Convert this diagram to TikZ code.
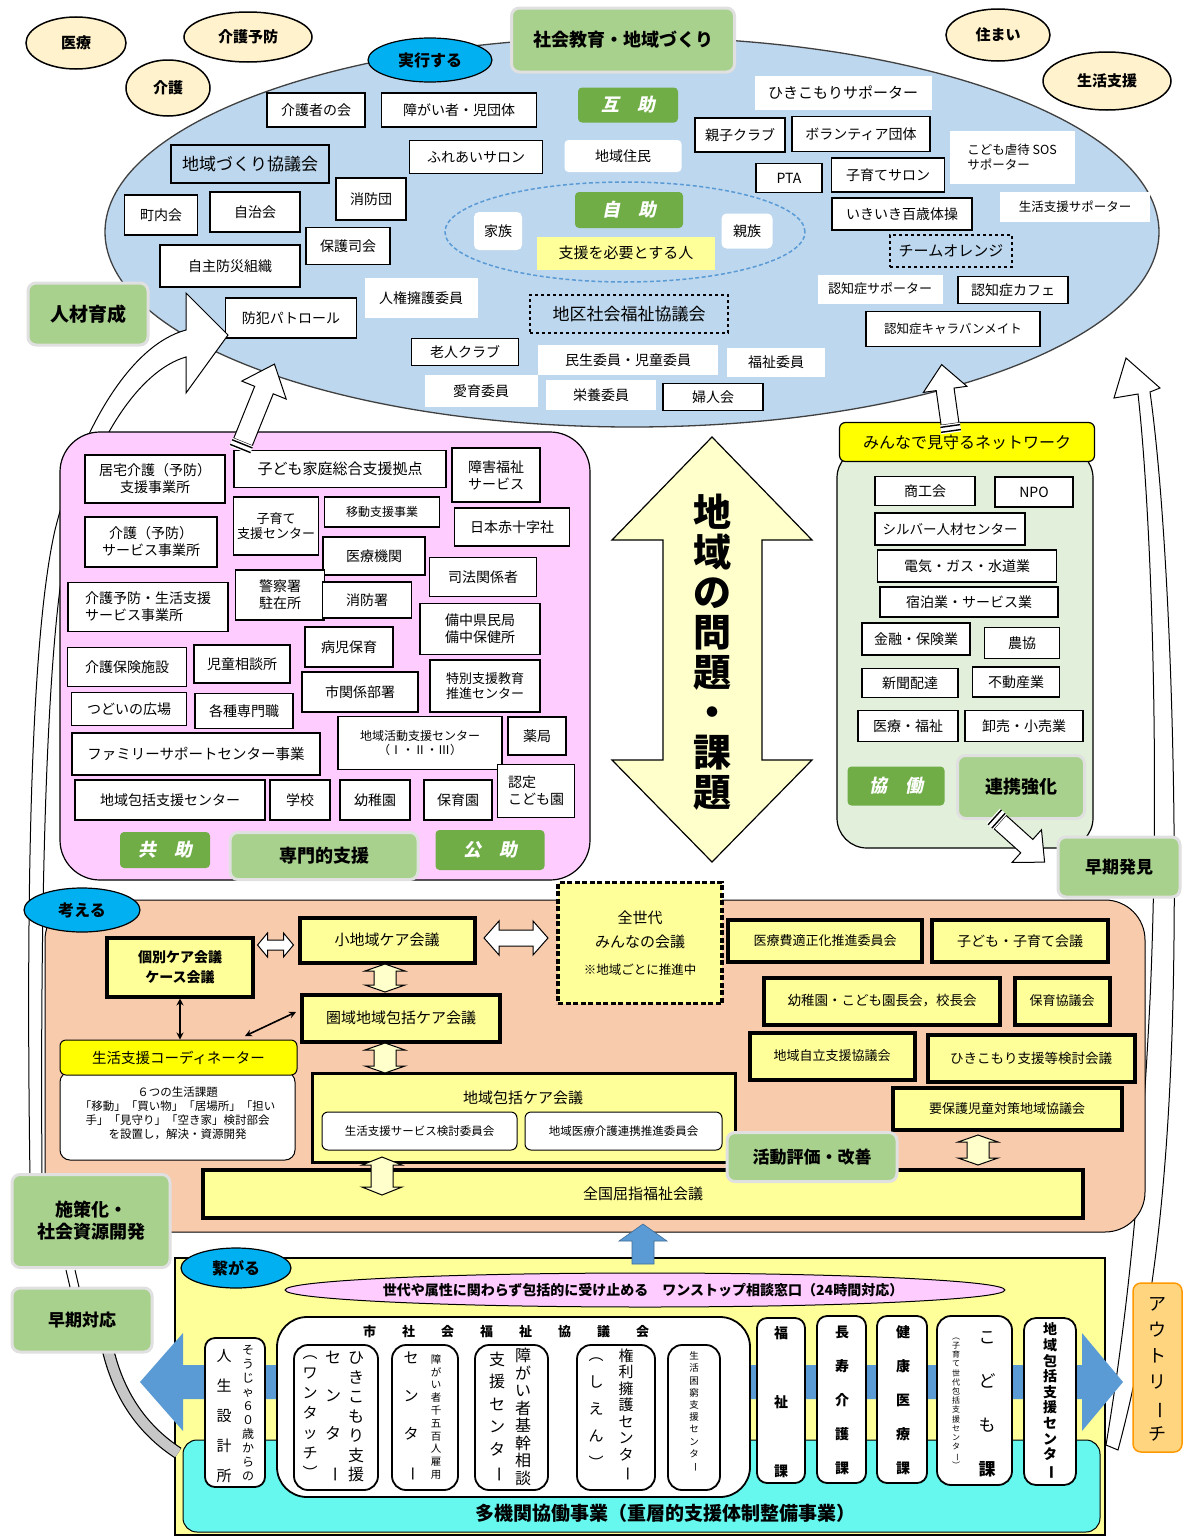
\documentclass[tikz,border=0pt]{standalone}
\usepackage{fontspec}
\setmainfont{Noto Sans CJK JP}
\newfontfamily\slfont{Noto Sans CJK JP}[FakeSlant=0.2]
\usetikzlibrary{shapes.geometric,arrows.meta}
\definecolor{ellblue}{HTML}{BDD7EE}
\definecolor{beigeell}{HTML}{FFF2CC}
\definecolor{cyanell}{HTML}{00B0F0}
\definecolor{dkgreen}{HTML}{70AD47}
\definecolor{ltgreen}{HTML}{A9D18E}
\definecolor{pinkbg}{HTML}{FFCCFF}
\definecolor{salmon}{HTML}{F8CBAD}
\definecolor{lyellow}{HTML}{FFFF99}
\definecolor{byellow}{HTML}{FFFF00}
\definecolor{netbg}{HTML}{E2EFDA}
\definecolor{arrblue}{HTML}{5B9BD5}
\definecolor{cyanbox}{HTML}{66F7EF}
\definecolor{outreach}{HTML}{FFD580}
\definecolor{paleyel}{HTML}{FFFFCC}
\newcommand\fs[1]{\fontsize{#1}{1.22\dimexpr#1pt\relax}\selectfont}
\newcommand\vf[2]{\fontsize{#1}{#2}\selectfont}
\newcommand\vbar{\rotatebox[origin=c]{-90}{ー}}
% block arrow: x y angle length shafthalf headhalf headlen style
\newcommand\blkarrow[8]{\begin{scope}[shift={(#1,#2)},rotate=#3]
 \draw[#8] (0,-#5)--(#4-#7,-#5)--(#4-#7,-#6)--(#4,0)--(#4-#7,#6)--(#4-#7,#5)--(0,#5)--cycle;
 \end{scope}}
% tail stripes: x y angle shafthalf
\newcommand\blktail[4]{\begin{scope}[shift={(#1,#2)},rotate=#3]
 \fill[white] (-9,-#4-1) rectangle (0,#4+1);
 \draw[line width=1.4pt] (-2,-#4-1)--(-2,#4+1) (-7,-#4-1)--(-7,#4+1);
 \end{scope}}
% double block arrow: cx cy angle length shafthalf headhalf headlen style
\newcommand\dblkarrow[8]{\begin{scope}[shift={(#1,#2)},rotate=#3]
 \draw[#8] (-#4/2,0)--(-#4/2+#7,-#6)--(-#4/2+#7,-#5)--(#4/2-#7,-#5)--(#4/2-#7,-#6)--(#4/2,0)--(#4/2-#7,#6)--(#4/2-#7,#5)--(-#4/2+#7,#5)--(-#4/2+#7,#6)--cycle;
 \end{scope}}
\tikzset{
 every node/.style={align=center},
 bx/.style 2 args={minimum width=#1,minimum height=#2},
 wb/.style={draw, fill=white, line width=1.2pt, inner sep=0pt, font=\fs{14}},
 wn/.style={fill=white, inner sep=0pt, font=\fs{14}},
 gl/.style={fill=dkgreen, rounded corners=4pt, text=white, font=\slfont\bfseries\fs{18}, inner sep=0pt},
 lg/.style={fill=ltgreen, draw=black!12, line width=3pt, rounded corners=8pt, font=\bfseries\fs{18}, inner sep=0pt},
 bel/.style={ellipse, draw, line width=1.5pt, fill=beigeell, font=\bfseries\fs{15}, inner sep=0pt},
 cel/.style={ellipse, draw, line width=1.2pt, fill=cyanell, font=\bfseries\fs{16}, inner sep=0pt},
 yb/.style={draw, line width=4pt, fill=lyellow, font=\fs{14}, inner sep=0pt},
 vb/.style={draw, fill=white, rounded corners=10pt, line width=1.8pt, inner sep=0pt},
 warr/.style={fill=white, draw=black, line width=1pt},
 yarr/.style={fill=paleyel, draw=black, line width=1pt},
 barr/.style={fill=arrblue, draw=arrblue!70!black, line width=0.6pt},
 conn/.style={{Stealth[length=7pt,width=7pt]}-{Stealth[length=7pt,width=7pt]}, line width=1.6pt}
}
\begin{document}
\begin{tikzpicture}[x=1pt,y=-1pt]
\fill[white] (0,0) rectangle (1184,1539);
\useasboundingbox (0,0) rectangle (1184,1539);

% ---------- five elements
\node[bel, bx={100}{52}] (iryo) at (76,43) {医療};
\node[bel, bx={128}{50}] (kaigoyobo) at (248,37) {介護予防};
\node[bel, bx={84}{56}] (kaigo) at (168,88) {介護};
\node[bel, bx={104}{52}] (sumai) at (998,35) {住まい};
\node[bel, bx={128}{58}] (seikatsu) at (1107,81) {生活支援};

% ---------- big ellipse
\node[ellipse, draw=black!75, line width=1.3pt, fill=ellblue, bx={1054}{390}, inner sep=0pt] (ell) at (632,232) {};
\node[cel, bx={124}{44}] (jikko) at (430,60) {実行する};
\node[lg, bx={223}{64}] (shakai) at (623,40) {社会教育・地域づくり};

\node[wb, bx={98}{34}] (kaigosha) at (316,110) {介護者の会};
\node[wb, bx={155}{34}] (shogai) at (459,110) {障がい者・児団体};
\node[gl, bx={100}{35}] (gojo) at (628,105) {互　助};
\node[wn, bx={177}{34}, font=\fs{15}] (hikisup) at (843,93) {ひきこもりサポーター};
\node[draw, line width=1.2pt, fill=ellblue, bx={158}{38}, font=\fs{17}, inner sep=0pt] (chiikizukuri) at (250,164) {地域づくり協議会};
\node[wb, bx={133}{33}] (fureai) at (476,157) {ふれあいサロン};
\node[wn, rounded corners=4pt, bx={117}{32}] (jumin) at (623,156) {地域住民};
\node[wb, bx={90}{34}] (oyako) at (740,135) {親子クラブ};
\node[wb, bx={138}{35}] (volunteer) at (861,134) {ボランティア団体};
\node[wn, bx={125}{53}, align=left, font=\fs{12.5}] (sos) at (1012,157) {こども虐待 SOS\\サポーター};
\node[wb, bx={66}{29}] (pta) at (789,178) {PTA};
\node[wb, bx={113}{34}] (kosodate) at (888,175) {子育てサロン};
\node[wb, bx={70}{42}] (shobodan) at (371,199) {消防団};
\node[wb, bx={73}{40}] (chonai) at (161,215) {町内会};
\node[wb, bx={90}{40}] (jichi) at (255,212) {自治会};
\node[wb, bx={84}{37}] (hogoshi) at (348,246) {保護司会};
\node[ellipse, draw=arrblue, dash pattern=on 4pt off 2.5pt, line width=1.5pt, bx={360}{100}, inner sep=0pt] (jijoell) at (625,232) {};
\node[gl, bx={108}{36}] (jijo) at (629,210) {自　助};
\node[wn, rounded corners=5pt, bx={48}{38}] (kazoku) at (498,231) {家族};
\node[wn, rounded corners=5pt, bx={51}{35}] (shinzoku) at (747,231) {親族};
\node[fill=lyellow, bx={178}{33}, font=\fs{15}, inner sep=0pt] (shien) at (626,253) {支援を必要とする人};
\node[wb, bx={140}{32}] (ikiiki) at (902,214) {いきいき百歳体操};
\node[wn, bx={150}{30}, font=\fs{12.5}] (seisup) at (1075,207) {生活支援サポーター};
\node[draw, dashed, line width=1.2pt, fill=ellblue, bx={122}{32}, font=\fs{15}, inner sep=0pt] (orange) at (951,251) {チームオレンジ};
\node[wb, bx={140}{42}] (jishubosai) at (230,266) {自主防災組織};
\node[wn, bx={113}{40}] (jinken) at (421,298) {人権擁護委員};
\node[draw, dashed, line width=1.2pt, fill=ellblue, bx={198}{38}, font=\fs{17}, inner sep=0pt] (chiku) at (629,314) {地区社会福祉協議会};
\node[wn, bx={125}{29}, font=\fs{13}] (ninsup) at (880,289) {認知症サポーター};
\node[wb, bx={110}{27}] (ninkafe) at (1013,290) {認知症カフェ};
\node[wb, bx={131}{40}] (bohan) at (291,318) {防犯パトロール};
\node[wb, bx={174}{35}, font=\fs{12.5}] (caravan) at (953,329) {認知症キャラバンメイト};
\node[wb, bx={107}{27}] (rojin) at (465,352) {老人クラブ};
\node[wn, bx={180}{30}] (minsei) at (628,360) {民生委員・児童委員};
\node[wn, bx={98}{29}] (fukushiiin) at (776,362) {福祉委員};
\node[wn, bx={113}{32}] (aiiku) at (481,391) {愛育委員};
\node[wn, bx={110}{30}] (eiyo) at (601,395) {栄養委員};
\node[wb, bx={100}{27}] (fujin) at (713,397) {婦人会};

% ---------- side bands
\draw[fill=white, line width=1pt] (30,1178) .. controls (26,900) and (30,640) .. (55,530) .. controls (80,430) and (130,345) .. (186,330) -- (186,293) -- (228,335) -- (186,393) -- (186,357) .. controls (140,370) and (92,440) .. (68,540) .. controls (46,640) and (40,900) .. (42,1178) -- cycle;
\draw[fill=white, line width=1pt] (1106,1445) .. controls (1125,1330) and (1140,1200) .. (1150,1000) .. controls (1160,780) and (1152,520) .. (1138,394) -- (1114,398) -- (1126,358) -- (1160,388) -- (1150,392) .. controls (1168,520) and (1178,780) .. (1173,1000) .. controls (1168,1200) and (1150,1330) .. (1118,1450) -- cycle;

\node[lg, bx={120}{62}, font=\bfseries\fs{19}] (jinzai) at (88,314) {人材育成};

% ---------- pink box
\node[draw, line width=1.2pt, fill=pinkbg, rounded corners=40pt, bx={530}{448}] (pink) at (325,656) {};
\node[wb, bx={140}{48}] (kyotaku) at (155,479) {居宅介護（予防）\\支援事業所};
\node[wb, bx={212}{37}, font=\fs{15}] (kodomokatei) at (340,469) {子ども家庭総合支援拠点};
\node[wb, bx={88}{54}] (shogaifukushi) at (496,475) {障害福祉\\サービス};
\node[wb, bx={85}{58}, font=\fs{13}] (kosodatesc) at (276,526) {子育て\\支援センター};
\node[wb, bx={115}{30}, font=\fs{12}] (ido) at (382,512) {移動支援事業};
\node[wb, bx={115}{38}] (sekijuji) at (512,527) {日本赤十字社};
\node[wb, bx={132}{50}] (kaigoyobo2) at (151,542) {介護（予防）\\サービス事業所};
\node[wb, bx={102}{38}] (iryokikan) at (374,556) {医療機関};
\node[wb, bx={107}{39}] (shiho) at (483,577) {司法関係者};
\node[wb, bx={89}{50}] (keisatsu) at (280,595) {警察署\\駐在所};
\node[wb, bx={89}{36}] (shobosho) at (367,600) {消防署};
\node[wb, bx={160}{49}, align=left] (yobo) at (148,607) {介護予防・生活支援\\サービス事業所};
\node[wb, bx={120}{51}] (bitchu) at (480,629) {備中県民局\\備中保健所};
\node[wb, bx={88}{40}] (byoji) at (349,647) {病児保育};
\node[wb, bx={119}{39}] (kaigohoken) at (127,667) {介護保険施設};
\node[wb, bx={96}{38}] (jido) at (242,664) {児童相談所};
\node[wb, bx={110}{52}, font=\fs{13}] (tokubetsu) at (485,686) {特別支援教育\\推進センター};
\node[wb, bx={116}{40}] (shikankei) at (360,692) {市関係部署};
\node[wb, bx={115}{33}] (tsudoi) at (129,709) {つどいの広場};
\node[wb, bx={98}{35}] (kakushu) at (244,711) {各種専門職};
\node[wb, bx={164}{53}, font=\fs{12}] (chiikikatsudo) at (420,743) {地域活動支援センター\\（Ⅰ・Ⅱ・Ⅲ）};
\node[wb, bx={58}{38}] (yakkyoku) at (537,736) {薬局};
\node[wb, bx={248}{42}, font=\fs{14.5}] (family) at (196,754) {ファミリーサポートセンター事業};
\node[wb, bx={190}{40}] (houkatsu1) at (170,800) {地域包括支援センター};
\node[wb, bx={60}{40}] (gakko) at (300,800) {学校};
\node[wb, bx={70}{40}] (yochien1) at (375,800) {幼稚園};
\node[wb, bx={68}{40}] (hoikuen) at (458,800) {保育園};
\node[wb, bx={77}{53}, align=left] (nintei) at (536,791) {認定\\こども園};
\node[gl, bx={90}{36}] (kyojo) at (165,850) {共　助};
\node[lg, bx={188}{47}] (senmon) at (324,856) {専門的支援};
\node[gl, bx={109}{40}] (kojo) at (490,850) {公　助};

\blkarrow{243}{442}{68}{84}{10}{24}{28}{warr}
\blktail{243}{442}{68}{10}

% ---------- central arrow
\draw[fill=paleyel, line width=1.2pt] (712,437) -- (812,540) -- (762,540) -- (762,760) -- (812,760) -- (712,862) -- (612,760) -- (663,760) -- (663,540) -- (612,540) -- cycle;
\node[font={\bfseries\fontsize{38}{40}\selectfont}] (mondai) at (712,652) {地\\域\\の\\問\\題\\・\\課\\題};

% ---------- network
\node[draw, line width=1.2pt, fill=netbg, rounded corners=30pt, bx={256}{400}] (net) at (965,648) {};
\node[draw, line width=1.2pt, fill=byellow, rounded corners=6pt, bx={255}{39}, font=\fs{16}, inner sep=0pt] (nethead) at (967,442) {みんなで見守るネットワーク};
\blkarrow{950}{424}{98}{60}{9}{22}{25}{warr}
\blktail{950}{424}{98}{9}
\node[wb, bx={100}{29}] (shokokai) at (925,491) {商工会};
\node[wb, bx={78}{30}] (npo) at (1034,492) {NPO};
\node[wb, bx={150}{32}, font=\fs{13.5}] (silver) at (950,529) {シルバー人材センター};
\node[wb, bx={179}{32}] (denki) at (967,566) {電気・ガス・水道業};
\node[wb, bx={178}{30}] (shukuhaku) at (969,602) {宿泊業・サービス業};
\node[wb, bx={108}{32}] (kinyu) at (916,639) {金融・保険業};
\node[wb, bx={75}{31}] (nokyo) at (1022,643) {農協};
\node[wb, bx={96}{29}] (shinbun) at (910,683) {新聞配達};
\node[wb, bx={87}{30}] (fudosan) at (1016,682) {不動産業};
\node[wb, bx={100}{31}] (iryofukushi) at (908,726) {医療・福祉};
\node[wb, bx={118}{31}] (oroshi) at (1024,726) {卸売・小売業};
\node[gl, bx={97}{39}] (kyodo) at (896,786) {協　働};
\node[lg, bx={127}{63}] (renkei) at (1021,787) {連携強化};
\blkarrow{1000}{822}{-42}{60}{9}{22}{24}{warr}
\blktail{1000}{822}{-42}{9}
\node[lg, bx={122}{60}, font=\bfseries\fs{17}] (soki) at (1119,867) {早期発見};

% ---------- beige section
\node[draw, line width=1pt, fill=salmon, rounded corners=40pt, bx={1100}{332}] (beige) at (595,1066) {};
\node[cel, bx={116}{44}] (kangaeru) at (82,910) {考える};
\node[yb, bx={146}{59}, font=\bfseries\fs{14}] (kobetsu) at (180,967) {個別ケア会議\\[3pt]ケース会議};
\node[yb, bx={175}{45}, font=\fs{15}] (shochiiki) at (387,940) {小地域ケア会議};
\node[draw, line width=3.5pt, dash pattern=on 5pt off 2.5pt, fill=lyellow, bx={164}{121}, font=\fs{15}, inner sep=0pt] (zensedai) at (640,943) {全世代\\[6pt]みんなの会議\\[9pt]{\fs{12.5}※地域ごとに推進中}};
\node[yb, bx={194}{42}, font=\fs{13}] (iryohi) at (825,941) {医療費適正化推進委員会};
\node[yb, bx={176}{42}] (kodomokosodate) at (1020,941) {子ども・子育て会議};
\node[yb, bx={236}{47}, font=\fs{13.5}] (yochienkai) at (882,1001) {幼稚園・こども園長会，校長会};
\node[yb, bx={95}{47}, font=\fs{13}] (hoikukyo) at (1062,1001) {保育協議会};
\node[yb, bx={165}{47}, font=\fs{13}] (jiritsu) at (832,1056) {地域自立支援協議会};
\node[yb, bx={207}{47}, font=\fs{13.5}] (hikikento) at (1031,1058) {ひきこもり支援等検討会議};
\node[yb, bx={229}{42}, font=\fs{13}] (yohogo) at (1007,1109) {要保護児童対策地域協議会};
\node[yb, bx={198}{47}, font=\fs{15}] (kenikikaigi) at (401,1018) {圏域地域包括ケア会議};
\node[draw, fill=white, rounded corners=10pt, line width=1pt, bx={235}{88}] (kadai) at (177.5,1116) {};
\node[font=\fs{11.5}] (kadaitext) at (177.5,1113) {６つの生活課題\\「移動」「買い物」「居場所」「担い\\手」「見守り」「空き家」検討部会\\を設置し，解決・資源開発};
\node[draw, fill=byellow, rounded corners=6pt, line width=1pt, bx={237}{35}, font=\fs{14.5}, inner sep=0pt] (coord) at (178.5,1057.5) {生活支援コーディネーター};
\node[draw, line width=3pt, fill=lyellow, bx={423}{89}] (hokatsu) at (523.5,1117.5) {};
\node[font=\fs{15}] (hokatsutitle) at (523,1098) {地域包括ケア会議};
\node[draw, fill=white, rounded corners=6pt, line width=1pt, bx={195}{38}, font=\fs{11.5}, inner sep=0pt] (seikatsuserv) at (419.5,1131) {生活支援サービス検討委員会};
\node[draw, fill=white, rounded corners=6pt, line width=1pt, bx={197}{38}, font=\fs{11.5}, inner sep=0pt] (iryokaigo) at (623.5,1131) {地域医療介護連携推進委員会};
\node[yb, bx={880}{48}, font=\fs{15}] (zenkoku) at (643,1194) {全国屈指福祉会議};
\node[lg, bx={170}{49}, font=\bfseries\fs{17}] (katsudo) at (812,1157) {活動評価・改善};

\draw[conn] (kobetsu.south) -- (kobetsu.south |- coord.north);
\coordinate (diagA) at (245,1036);
\coordinate (diagB) at (296,1012);
\draw[conn] (diagA) -- (diagB);
\dblkarrow{275.5}{945}{0}{36}{5}{12}{10}{warr}
\dblkarrow{516}{938}{0}{64}{8}{17}{15}{warr}
\dblkarrow{385}{978}{90}{28}{11}{20}{7}{yarr}
\dblkarrow{385}{1058}{90}{30}{11}{20}{7}{yarr}
\dblkarrow{382}{1176}{90}{38}{11}{20}{8}{yarr}
\dblkarrow{978}{1150}{90}{30}{11}{20}{7}{yarr}

\node[lg, bx={158}{93}, font=\bfseries\fs{18}] (shisaku) at (91,1221) {施策化・\\社会資源開発};

% ---------- bottom section
\node[draw, line width=1.5pt, fill=lyellow, bx={930}{277}] (bottombox) at (640,1396.5) {};
\blkarrow{643}{1264}{90}{40}{11}{24}{17}{barr}
\fill[arrblue] (140,1382) -- (183,1333) -- (183,1365) -- (1082,1365) -- (1082,1333) -- (1123,1382) -- (1082,1431) -- (1082,1399) -- (183,1399) -- (183,1431) -- cycle;
\node[draw, fill=cyanbox, rounded corners=14pt, line width=1pt, bx={917}{92}] (cyanbox) at (641.5,1486) {};
\node[font=\bfseries\fs{19}] (takikan) at (665,1513) {多機関協働事業（重層的支援体制整備事業）};
\node[ellipse, draw, line width=1pt, fill=pinkbg, bx={720}{34}, inner sep=0pt] (onestop) at (645,1290) {};
\node[font=\bfseries\fs{14}] (onestopT) at (643,1290) {世代や属性に関わらず包括的に受け止める　ワンストップ相談窓口（24時間対応）};
\node[cel, bx={110}{40}] (tsunagaru) at (236,1268) {繋がる};

\node[vb, bx={60}{149}] (jinsei) at (235,1412.5) {};
\node[font=\vf{15}{30}] (jinseiL) at (224,1416) {人\\生\\設\\計\\所};
\node[font=\vf{12}{14}] (jinseiR) at (248,1413) {そ\\う\\じ\\ゃ\\６\\０\\歳\\か\\ら\\の};

\node[vb, rounded corners=30pt, bx={473}{180}] (shakyo) at (513.5,1407) {};
\node[font=\bfseries\fs{13}] (shakyohead) at (506,1332) {市\hskip26pt社\hskip26pt会\hskip26pt福\hskip26pt祉\hskip26pt協\hskip26pt議\hskip26pt会};
\node[vb, rounded corners=14pt, bx={84}{145}] (hiki) at (336,1417.5) {};
\node[font=\vf{16}{19.5}] (hikiA) at (356,1417) {ひ\\き\\こ\\も\\り\\支\\援};
\node[font=\vf{16}{38}] (hikiB) at (333,1417) {セ\\ン\\タ\\\vbar};
\node[font=\vf{15}{20}] (hikiC) at (310,1417) {︵\\ワ\\ン\\タ\\ッ\\チ\\︶};
\node[vb, rounded corners=14pt, bx={66}{145}] (s1500) at (425,1417.5) {};
\node[font=\vf{10.5}{12.8}] (s1500A) at (436,1417) {障\\が\\い\\者\\千\\五\\百\\人\\雇\\用};
\node[font=\vf{15}{38}] (s1500B) at (411,1417) {セ\\ン\\タ\\\vbar};
\node[vb, rounded corners=14pt, bx={73}{145}] (kikan) at (511.5,1417.5) {};
\node[font=\vf{16}{17.5}] (kikanA) at (523,1417) {障\\が\\い\\者\\基\\幹\\相\\談};
\node[font=\vf{16}{22.5}] (kikanB) at (497,1417) {支\\援\\セ\\ン\\タ\\\vbar};
\node[vb, rounded corners=14pt, bx={78}{145}] (kenri) at (616,1417.5) {};
\node[font=\vf{15}{16.5}] (kenriA) at (626,1415) {権\\利\\擁\\護\\セ\\ン\\タ\\\vbar};
\node[font=\vf{15}{27}] (kenriB) at (596,1413) {︵\\し\\え\\ん\\︶};
\node[vb, rounded corners=14pt, bx={52}{145}] (konkyu) at (694,1417.5) {};
\node[font=\vf{9.5}{12.2}] (konkyuA) at (694,1412) {生\\活\\困\\窮\\支\\援\\セ\\ン\\タ\\\vbar};

\node[vb, bx={48}{165}] (fukushika) at (781,1400.5) {};
\node[font=\bfseries\vf{14}{69}] (fukushiT) at (781,1402) {福\\祉\\課};
\node[vb, bx={49}{167}] (choju) at (841.5,1399.5) {};
\node[font=\bfseries\vf{14}{34}] (chojuT) at (842,1400) {長\\寿\\介\\護\\課};
\node[vb, bx={50}{167}] (kenko) at (902,1399.5) {};
\node[font=\bfseries\vf{14}{34}] (kenkoT) at (903,1400) {健\\康\\医\\療\\課};
\node[vb, rounded corners=14pt, bx={75}{169}] (kodomoka) at (974.5,1400.5) {};
\node[font=\vf{17}{44}] (kodomoT) at (987,1404) {こ\\ど\\も\\{\bfseries 課}};
\node[font=\vf{8}{9.2}] (kodomoS) at (956,1403) {︵\\子\\育\\て\\世\\代\\包\\括\\支\\援\\セ\\ン\\タ\\\vbar\\︶};
\node[vb, rounded corners=12pt, bx={52}{167}] (houkatsu2) at (1050,1401.5) {};
\node[font=\bfseries\vf{14}{15.6}] (houkatsuT) at (1050,1401) {地\\域\\包\\括\\支\\援\\セ\\ン\\タ\\\vbar};

% ---------- left lower pieces
\draw[double=black!22, double distance=10pt, line width=1.2pt] (108,1350) .. controls (120,1400) and (146,1432) .. (178,1453);
\node[lg, bx={140}{64}, font=\bfseries\fs{17}] (sokitaio) at (82,1320) {早期対応};
\draw[line width=1pt] (66,1270) -- (70,1287);
\draw[line width=1pt] (75,1270) -- (79,1287);

% ---------- outreach
\node[draw=orange!80!yellow, fill=outreach, rounded corners=8pt, line width=1.5pt, bx={49}{169}] (outreach) at (1157.5,1367.5) {};
\node[font=\vf{18}{26}] (outreachT) at (1157,1369) {ア\\ウ\\ト\\リ\\\vbar\\チ};
\end{tikzpicture}
\end{document}
